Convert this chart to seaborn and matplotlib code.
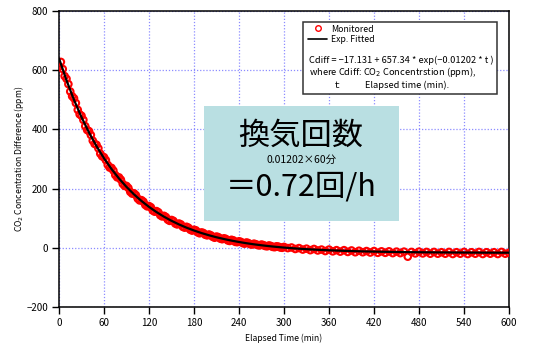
import seaborn as sns
import pandas as pd
import matplotlib.pyplot as plt
from matplotlib.lines import Line2D
from matplotlib.patches import Rectangle

# monitored CO2 difference, read every 5 min (0-300) ...
t_a = list(range(0, 301, 5))
c_a = [612, 604, 571, 528, 505, 466, 446, 411, 394, 362, 348, 318, 306, 280, 270, 246,
       238, 216, 209, 189, 184, 166, 161, 145, 141, 126, 124, 110, 108, 95, 94, 82,
       82, 71, 71, 61, 61, 52, 52, 44, 45, 37, 38, 31, 32, 25, 27, 20,
       22, 16, 18, 12, 14, 9, 11, 6, 8, 3, 5, 1, 3]
# ... readings in between (2.5-297.5)
t_b = [2.5 + 5 * i for i in range(60)]
c_b = [628, 580, 553, 512, 489, 451, 432, 398, 381, 351, 336, 309, 296, 271, 261, 238,
       230, 209, 202, 183, 178, 160, 156, 140, 137, 122, 120, 106, 104, 91, 91, 79,
       79, 68, 68, 58, 59, 49, 50, 42, 42, 34, 36, 29, 30, 23, 25, 19,
       20, 14, 16, 11, 12, 8, 9, 5, 6, 2, 4, 0]
# ... and every 5 min after 300
t_c = list(range(305, 601, 5))
c_c = [-1, 1, -4, -1, -6, -3, -8, -4, -9, -6, -11, -6, -12, -8, -13, -8,
       -14, -9, -15, -10, -15, -11, -16, -11, -17, -12, -17, -12, -18, -13, -18, -13,
       -30, -14, -19, -13, -19, -14, -20, -14, -20, -15, -20, -14, -21, -15, -20, -14,
       -21, -15, -20, -14, -21, -15, -20, -15, -21, -14, -20, -17]

# exponential fit curve
t_fit = [0, 10, 20, 30, 40, 50, 60, 70, 80, 90, 100, 110, 120, 130, 140, 150, 160, 170,
         180, 190, 200, 210, 220, 230, 240, 250, 260, 270, 280, 290, 300, 320, 340, 360,
         380, 400, 420, 450, 480, 510, 540, 570, 600]
c_fit = [640.2, 565.8, 499.7, 441.2, 389.3, 343.3, 302.4, 266.2, 234.1, 205.7, 180.4,
         158.1, 138.2, 120.6, 105.0, 91.2, 78.9, 68.0, 58.4, 49.8, 42.3, 35.5, 29.6,
         24.3, 19.6, 15.4, 11.7, 8.5, 5.6, 3.0, 0.7, -3.1, -6.1, -8.5, -10.3, -11.8,
         -12.9, -14.2, -15.1, -15.7, -16.1, -16.4, -16.6]

x_ticks = list(range(0, 601, 60))
y_ticks = [-200, 0, 200, 400, 600, 800]

sns.set_style("white")
plt.rcParams['font.family'] = ['Noto Sans CJK JP', 'DejaVu Sans']
plt.rcParams['text.color'] = 'black'
plt.rcParams['axes.labelcolor'] = 'black'
plt.rcParams['xtick.color'] = 'black'
plt.rcParams['ytick.color'] = 'black'

fig = plt.figure(figsize=(5.33, 3.47), dpi=100)
ax = fig.add_axes([0.1107, 0.1153, 0.8443, 0.853])

mon = pd.DataFrame({"t": t_a + t_b + t_c, "c": c_a + c_b + c_c})
fit = pd.DataFrame({"t": t_fit, "c": c_fit})

sns.scatterplot(data=mon, x="t", y="c", ax=ax, marker="o", s=22,
                facecolors="none", edgecolor="#ff0000", linewidth=1.5, zorder=3)
sns.lineplot(data=fit, x="t", y="c", ax=ax, color="black", linewidth=1.6, zorder=4)

ax.set_xlim(0, 600)
ax.set_ylim(-200, 800)
ax.set_xticks(x_ticks)
ax.set_yticks(y_ticks)
ax.tick_params(axis="both", direction="out", length=5, width=1, labelsize=7,
               bottom=True, left=True, pad=3)
ax.grid(True, color="#8c8cff", linestyle=(0, (1, 1.5)), linewidth=0.9)
ax.set_axisbelow(True)
for s in ax.spines.values():
    s.set_color("black")
    s.set_linewidth(1.1)

ax.set_xlabel("Elapsed Time (min)", fontsize=6.2, labelpad=4)
ax.set_ylabel("CO$_2$ Concentration Difference (ppm)", fontsize=6.2, labelpad=0)

# legend box
ax.add_patch(Rectangle((0.542, 0.72), 0.431, 0.243, transform=ax.transAxes,
                       facecolor="white", edgecolor="#333333", linewidth=1.1, zorder=5))
handles = [Line2D([], [], marker="o", linestyle="none", markerfacecolor="none",
                  markeredgecolor="red", markersize=4),
           Line2D([], [], color="black", linewidth=1.2)]
leg = ax.legend(handles, ["Monitored", "Exp. Fitted"], loc="upper left",
                bbox_to_anchor=(0.54, 0.975), frameon=False, fontsize=6.3,
                handlelength=2.2, handletextpad=0.4, labelspacing=0.2, borderpad=0.2)
leg.set_zorder(6)
fs = 6.7
ax.text(0.555, 0.832, "Cdiff = \u221217.131 + 657.34 * exp(\u22120.01202 * t )",
        transform=ax.transAxes, fontsize=fs, va="center", zorder=6)
ax.text(0.555, 0.793, "where Cdiff: CO$_2$ Concentrstion (ppm),",
        transform=ax.transAxes, fontsize=fs, va="center", zorder=6)
ax.text(0.612, 0.748, "t:", transform=ax.transAxes, fontsize=fs, va="center", zorder=6)
ax.text(0.68, 0.748, "Elapsed time (min).", transform=ax.transAxes, fontsize=fs,
        va="center", zorder=6)

# air change box
ax.add_patch(Rectangle((0.322, 0.291), 0.433, 0.388, transform=ax.transAxes,
                       facecolor="#b9dfe2", edgecolor="none", zorder=7))
ax.text(0.538, 0.58, "換気回数", transform=ax.transAxes, fontsize=22.5, ha="center",
        va="center", zorder=8)
ax.text(0.538, 0.497, "0.01202×60分", transform=ax.transAxes, fontsize=7.5,
        ha="center", va="center", zorder=8)
ax.text(0.538, 0.405, "＝0.72回/h", transform=ax.transAxes, fontsize=22, ha="center",
        va="center", zorder=8)

fig.savefig("out.png", dpi=100)
